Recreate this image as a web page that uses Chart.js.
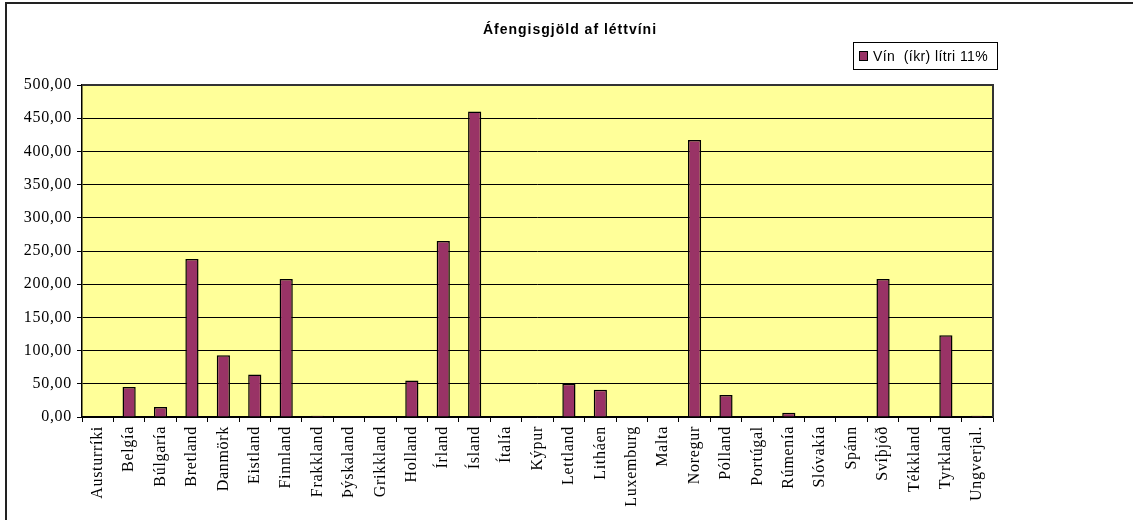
<!DOCTYPE html>
<html>
<head>
<meta charset="utf-8">
<script src="https://cdn.jsdelivr.net/npm/chart.js@4"></script>
<style>
  body { margin: 0; background: #fff; }
  #frame { position: absolute; left: 5px; top: 2px; width: 1140px; height: 530px;
           border-left: 2px solid #222; border-top: 2px solid #222; }
  #box { position: absolute; left: 0; top: 0; width: 1133px; height: 520px; }
</style>
</head>
<body>
<div id="frame"></div>
<div id="box"><canvas id="myChart" width="1133" height="520"></canvas></div>
<script>
var titleText = "Áfengisgjöld af léttvíni";
var seriesName = "Vín  (íkr) lítri 11%";
var countries = ["Austurríki", "Belgía", "Búlgaría", "Bretland", "Danmörk", "Eistland",
  "Finnland", "Frakkland", "Þýskaland", "Grikkland", "Holland", "Írland", "Ísland",
  "Ítalía", "Kýpur", "Lettland", "Litháen", "Luxemburg", "Malta", "Noregur", "Pólland",
  "Portúgal", "Rúmenía", "Slóvakía", "Spánn", "Svíþjóð", "Tékkland", "Tyrkland", "Ungverjal."];
var wineTax = [0, 45, 15, 238, 93, 64, 208, 2, 0, 0, 55, 265, 460, 0, 0, 50, 41, 0, 0,
  417, 33, 0, 6.5, 0, 0, 208, 0, 123, 2];
var yTicks = [0, 50, 100, 150, 200, 250, 300, 350, 400, 450, 500];

// yellow plot, frame, title and legend box
var extras = {
  id: "extras",
  beforeDraw: function(chart) {
    var a = chart.chartArea, ctx = chart.ctx;
    ctx.letterSpacing = "0.7px";
    ctx.save();
    ctx.fillStyle = "#ffff99";
    ctx.fillRect(a.left, a.top, a.right - a.left, a.bottom - a.top);
    ctx.restore();
  },
  afterDraw: function(chart) {
    var a = chart.chartArea, ctx = chart.ctx;
    ctx.save();
    ctx.strokeStyle = "#333";
    ctx.lineWidth = 2;
    ctx.beginPath();
    ctx.moveTo(a.left, a.top);
    ctx.lineTo(a.right, a.top);
    ctx.lineTo(a.right, a.bottom);
    ctx.stroke();

    ctx.fillStyle = "#000";
    ctx.letterSpacing = "1px";
    ctx.font = "bold 14px 'Liberation Sans', Arial";
    ctx.textAlign = "center";
    ctx.textBaseline = "alphabetic";
    ctx.fillText(titleText, 570, 34);

    // legend
    ctx.lineWidth = 1;
    ctx.strokeStyle = "#000";
    ctx.fillStyle = "#fff";
    ctx.fillRect(853.5, 42.5, 144, 27);
    ctx.strokeRect(853.5, 42.5, 144, 27);
    var ds = chart.data.datasets[0];
    ctx.fillStyle = ds.backgroundColor;
    ctx.fillRect(859.5, 51.5, 8, 9);
    ctx.strokeRect(859.5, 51.5, 8, 9);
    ctx.fillStyle = "#000";
    ctx.letterSpacing = "0.4px";
    ctx.font = "14px 'Liberation Sans', Arial";
    ctx.textAlign = "left";
    ctx.fillText(ds.label, 873, 61);
    ctx.restore();
  }
};

var ctx = document.getElementById("myChart").getContext("2d");
var myChart = new Chart(ctx, {
  type: "bar",
  data: {
    labels: countries,
    datasets: [
      {
        label: seriesName,
        data: wineTax,
        backgroundColor: "#993366",
        borderColor: "#000",
        borderWidth: 1.5,
        barPercentage: 0.42,
        categoryPercentage: 1
      }
    ]
  },
  options: {
    responsive: false,
    animation: false,
    layout: { padding: { left: 0, top: 85, right: 140, bottom: 0 } },
    plugins: { legend: { display: false }, title: { display: false }, tooltip: { enabled: false } },
    scales: {
      x: {
        afterFit: function(axis) { axis.height = 103; },
        grid: { drawOnChartArea: false, drawTicks: true, tickLength: 5, color: "#000", offset: true },
        border: { color: "#000", width: 1.5 },
        ticks: {
          autoSkip: false, minRotation: 90, maxRotation: 90, padding: 4,
          color: "#000", font: { family: "'Liberation Serif', 'Times New Roman'", size: 16 }
        }
      },
      y: {
        min: 0,
        max: 500,
        afterFit: function(axis) { axis.width = 82; },
        afterBuildTicks: function(axis) { axis.ticks = yTicks.map(function(v) { return { value: v }; }); },
        grid: { color: "#000", lineWidth: 1, tickLength: 5 },
        border: { color: "#000", width: 1.5 },
        ticks: {
          padding: 5, color: "#000",
          font: { family: "'Liberation Serif', 'Times New Roman'", size: 16 },
          callback: function(v) { return v.toFixed(2).replace(".", ","); }
        }
      }
    }
  },
  plugins: [extras]
});
</script>
</body>
</html>
